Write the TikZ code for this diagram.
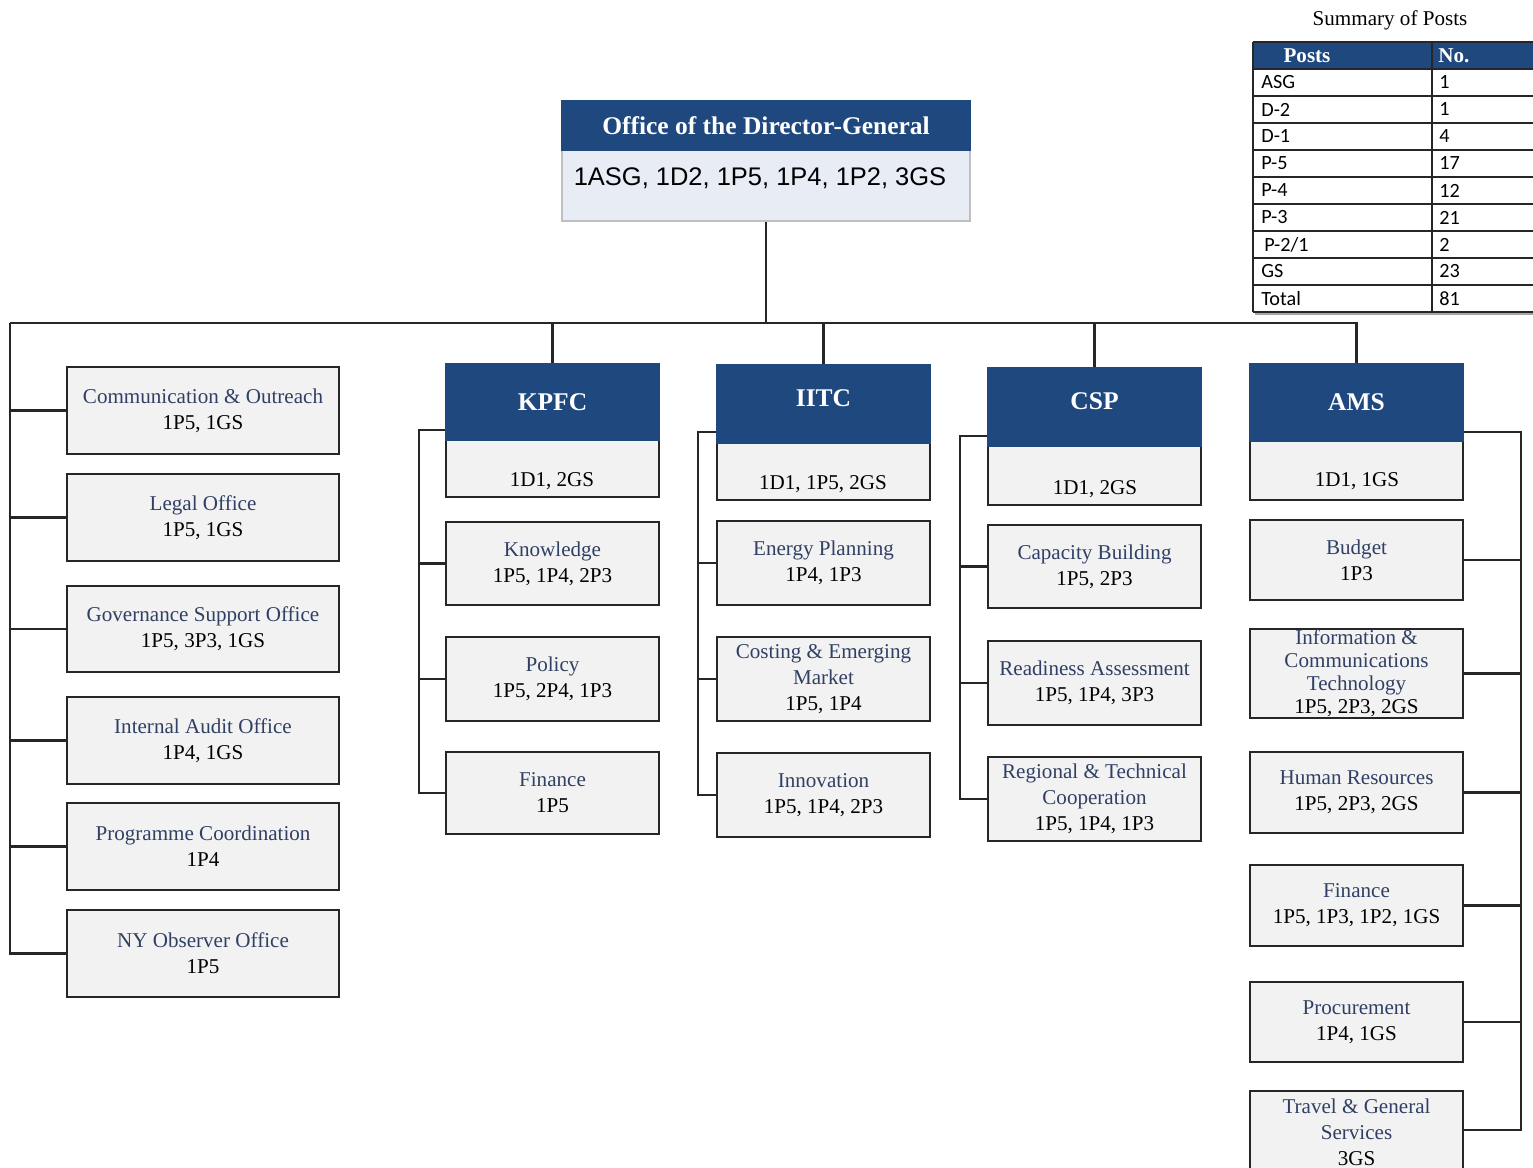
\documentclass[tikz,border=0pt]{standalone}
\usepackage{fontspec}
\setmainfont{Liberation Serif}
\newfontfamily\arialf{Liberation Sans}
\newfontfamily\calibrif{Carlito}
\usetikzlibrary{calc}
\definecolor{hdrblue}{RGB}{31,72,126}
\definecolor{boxfill}{RGB}{242,242,242}
\definecolor{dgfill}{RGB}{232,237,245}
\definecolor{titlecol}{RGB}{48,64,100}
\definecolor{linecol}{RGB}{38,38,38}
\newcommand\ttl[1]{{\color{titlecol}#1}}
\tikzset{
  ubox/.style={draw=linecol, line width=1.1pt, fill=boxfill, inner sep=0pt, align=center,
     font=\fontsize{12}{14.8}\selectfont},
  hdr/.style={draw=hdrblue, line width=0.6pt, fill=hdrblue, inner sep=0pt, text=white,
     font=\fontsize{14.5}{17}\selectfont\bfseries},
  colbody/.style={draw=linecol, line width=1.1pt, fill=boxfill, inner sep=0pt},
  btxt/.style={inner sep=0pt, font=\fontsize{12}{14.8}\selectfont},
  conn/.style={draw=linecol, line width=1.2pt},
  tabline/.style={draw=linecol, line width=1.2pt},
  tabtxt/.style={inner sep=0pt, anchor=west, font=\calibrif\fontsize{11.5}{13}\selectfont},
  tabhdr/.style={inner sep=0pt, text=white, font=\fontsize{12}{14}\selectfont\bfseries}
}
% name, x1, y1, x2, y2, style, text
\newcommand\pbox[7]{\node[#6, minimum width={(#4-#2)*0.02cm}, minimum height={(#5-#3)*0.02cm}] (#1) at ({(#2+#4)/2},{(#3+#5)/2}) {#7};}
\begin{document}
\begin{tikzpicture}[x=0.02cm,y=-0.02cm]
\useasboundingbox (0,0) rectangle (1533,1168);

% ---------- Director-General ----------
\pbox{dgB}{562}{150}{970}{221}{draw=black!25, line width=1pt, fill=dgfill, inner sep=0pt}{}
\pbox{dgH}{562}{101}{970}{150}{hdr, draw=hdrblue}{Office of the Director-General}
\node[inner sep=0pt, font=\arialf\fontsize{14.5}{17}\selectfont] (dgT) at (760,178) {1ASG, 1D2, 1P5, 1P4, 1P2, 3GS};

% ---------- Summary table ----------
\node[inner sep=0pt, font=\fontsize{12}{14}\selectfont] (sumT) at (1390,20) {Summary of Posts};
\fill[hdrblue] (1253,42) rectangle (1545,69);
\foreach \yy in {42,69,96,123,150,177,204,231,258,285,312} {\draw[tabline] (1253,\yy) -- (1545,\yy);}
\draw[tabline] (1253,42) -- (1253,312);
\draw[tabline] (1432,42) -- (1432,312);
\draw[black!35, line width=1pt] (1255,314) -- (1545,314);
\node[tabhdr] (thP) at (1307,56) {Posts};
\node[tabhdr, anchor=west] (thN) at (1438,56) {No.};
\node[tabtxt] (r1) at (1261,82.5) {ASG};   \node[tabtxt] (n1) at (1439,82.5) {1};
\node[tabtxt] (r2) at (1261,109.5) {D-2};  \node[tabtxt] (n2) at (1439,109.5) {1};
\node[tabtxt] (r3) at (1261,136.5) {D-1};  \node[tabtxt] (n3) at (1439,136.5) {4};
\node[tabtxt] (r4) at (1261,163.5) {P-5};  \node[tabtxt] (n4) at (1439,163.5) {17};
\node[tabtxt] (r5) at (1261,190.5) {P-4};  \node[tabtxt] (n5) at (1439,190.5) {12};
\node[tabtxt] (r6) at (1261,217.5) {P-3};  \node[tabtxt] (n6) at (1439,217.5) {21};
\node[tabtxt] (r7) at (1264,244.5) {P-2/1};\node[tabtxt] (n7) at (1439,244.5) {2};
\node[tabtxt] (r8) at (1261,271.5) {GS};   \node[tabtxt] (n8) at (1439,271.5) {23};
\node[tabtxt] (r9) at (1261,298.5) {Total};\node[tabtxt] (n9) at (1439,298.5) {81};

% ---------- Left column ----------
\pbox{co}{67}{367}{339}{454}{ubox}{\ttl{Communication \& Outreach}\\1P5, 1GS}
\pbox{lo}{67}{474}{339}{561}{ubox}{\ttl{Legal Office}\\1P5, 1GS}
\pbox{gso}{67}{586}{339}{672}{ubox}{\ttl{Governance Support Office}\\1P5, 3P3, 1GS}
\pbox{iao}{67}{697}{339}{784}{ubox}{\ttl{Internal Audit Office}\\1P4, 1GS}
\pbox{pc}{67}{803}{339}{890}{ubox}{\ttl{Programme Coordination}\\1P4}
\pbox{ny}{67}{910}{339}{997}{ubox}{\ttl{NY Observer Office}\\1P5}

% ---------- KPFC ----------
\pbox{kpfcB}{446}{440}{659}{497}{colbody}{}
\pbox{kpfcH}{446}{364}{659}{440}{hdr}{KPFC}
\node[btxt] (kpfcT) at (552,481) {1D1, 2GS};
\pbox{know}{446}{522}{659}{605}{ubox}{\ttl{Knowledge}\\1P5, 1P4, 2P3}
\pbox{pol}{446}{637}{659}{721}{ubox}{\ttl{Policy}\\1P5, 2P4, 1P3}
\pbox{fin}{446}{752}{659}{834}{ubox}{\ttl{Finance}\\1P5}

% ---------- IITC ----------
\pbox{iitcB}{717}{443}{930}{500}{colbody}{}
\pbox{iitcH}{717}{365}{930}{443}{hdr, text depth=12*0.02cm}{IITC}
\node[btxt] (iitcT) at (823,484) {1D1, 1P5, 2GS};
\pbox{ep}{717}{521}{930}{605}{ubox}{\ttl{Energy Planning}\\1P4, 1P3}
\pbox{cem}{717}{637}{930}{721}{ubox}{\ttl{Costing \& Emerging}\\\ttl{Market}\\1P5, 1P4}
\pbox{inn}{717}{753}{930}{837}{ubox}{\ttl{Innovation}\\1P5, 1P4, 2P3}

% ---------- CSP ----------
\pbox{cspB}{988}{446}{1201}{505}{colbody}{}
\pbox{cspH}{988}{368}{1201}{446}{hdr, text depth=12*0.02cm}{CSP}
\node[btxt] (cspT) at (1095,489) {1D1, 2GS};
\pbox{cb}{988}{525}{1201}{608}{ubox}{\ttl{Capacity Building}\\1P5, 2P3}
\pbox{ra}{988}{641}{1201}{725}{ubox}{\ttl{Readiness Assessment}\\1P5, 1P4, 3P3}
\pbox{rtc}{988}{757}{1201}{841}{ubox}{\ttl{Regional \& Technical}\\\ttl{Cooperation}\\1P5, 1P4, 1P3}

% ---------- AMS ----------
\pbox{amsB}{1250}{441}{1463}{500}{colbody}{}
\pbox{amsH}{1250}{364}{1463}{441}{hdr}{AMS}
\node[btxt] (amsT) at (1357,481) {1D1, 1GS};
\pbox{bud}{1250}{520}{1463}{600}{ubox}{\ttl{Budget}\\1P3}
\pbox{ict}{1250}{629}{1463}{718}{ubox, font=\fontsize{12}{13.1}\selectfont}{\ttl{Information \&}\\\ttl{Communications}\\\ttl{Technology}\\1P5, 2P3, 2GS}
\pbox{hr}{1250}{752}{1463}{833}{ubox}{\ttl{Human Resources}\\1P5, 2P3, 2GS}
\pbox{afin}{1250}{865}{1463}{946}{ubox}{\ttl{Finance}\\1P5, 1P3, 1P2, 1GS}
\pbox{proc}{1250}{982}{1463}{1062}{ubox}{\ttl{Procurement}\\1P4, 1GS}
\pbox{tgs}{1250}{1091}{1463}{1174}{ubox}{\ttl{Travel \& General}\\\ttl{Services}\\3GS}

% ---------- Connectors ----------
\coordinate (bus) at (766,323);
\coordinate (lbus) at (10,323);
\draw[conn] (dgB.south) -- (bus);
\draw[conn] (lbus) -- (amsH.north |- bus) -- (amsH.north);
\draw[conn] (kpfcH.north |- bus) -- (kpfcH.north);
\draw[conn] (iitcH.north |- bus) -- (iitcH.north);
\draw[conn] (cspH.north |- bus) -- (cspH.north);
% left
\draw[conn] (lbus) -- (lbus |- ny.west) -- (ny.west);
\foreach \n in {co,lo,gso,iao,pc} {\draw[conn] (\n.west) -- (\n.west -| lbus);}
% KPFC
\coordinate (kb) at (419,430);
\draw[conn] (kpfcH.west |- kb) -- (kb) -- (kb |- fin.west) -- (fin.west);
\foreach \n in {know,pol} {\draw[conn] (\n.west) -- (\n.west -| kb);}
% IITC
\coordinate (ib) at (698,432);
\draw[conn] (iitcH.west |- ib) -- (ib) -- (ib |- inn.west) -- (inn.west);
\foreach \n in {ep,cem} {\draw[conn] (\n.west) -- (\n.west -| ib);}
% CSP
\coordinate (cbb) at (960,436);
\draw[conn] (cspH.west |- cbb) -- (cbb) -- (cbb |- rtc.west) -- (rtc.west);
\foreach \n in {cb,ra} {\draw[conn] (\n.west) -- (\n.west -| cbb);}
% AMS
\coordinate (ab) at (1521,432);
\coordinate (abend) at (1521,1130);
\draw[conn] (amsH.east |- ab) -- (ab) -- (abend) -- (tgs.east |- abend);
\foreach \n in {bud,ict,hr,afin,proc} {\draw[conn] (\n.east) -- (\n.east -| ab);}
\end{tikzpicture}
\end{document}
